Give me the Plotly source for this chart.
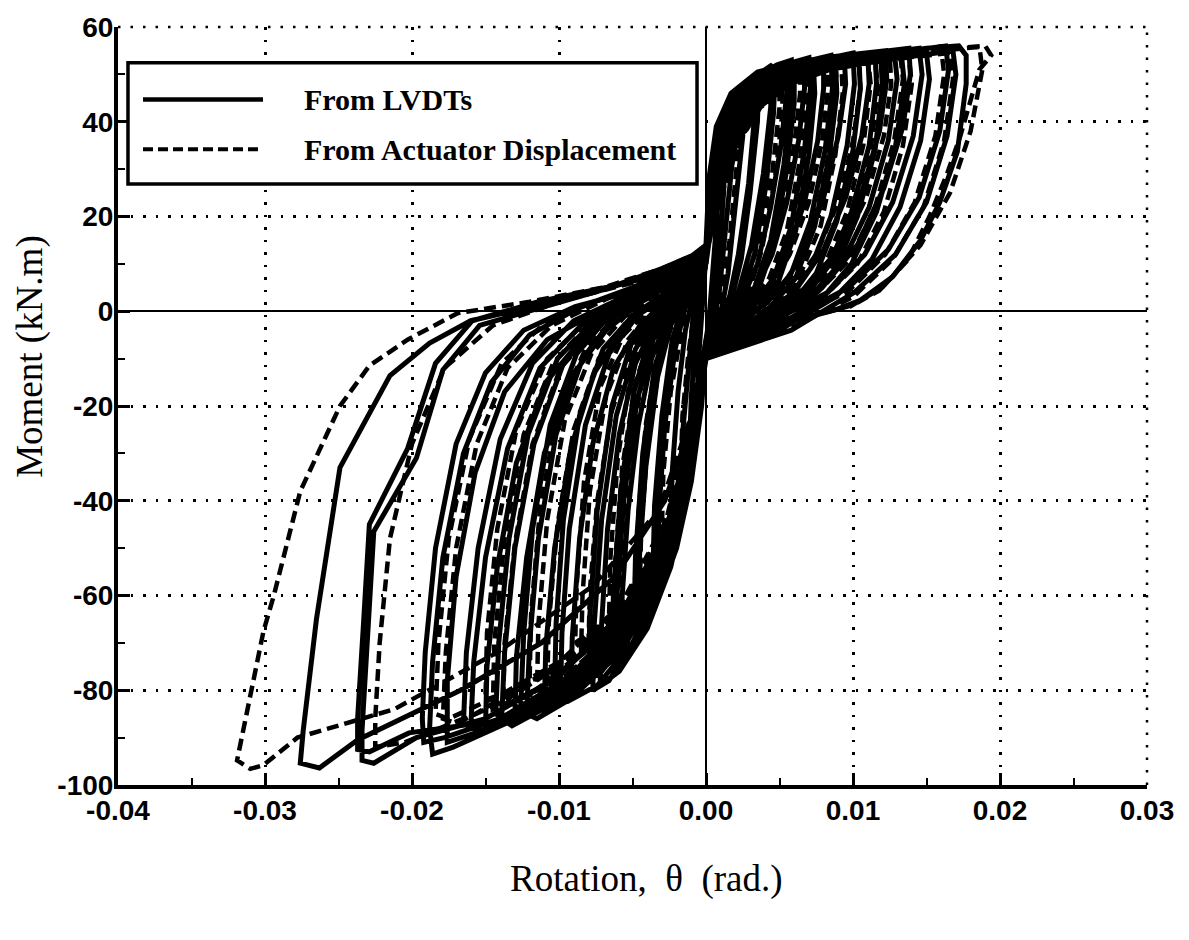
import plotly.graph_objects as go

# ---------------- tick labels ----------------
X_TICKS = [-0.04, -0.03, -0.02, -0.01, 0.0, 0.01, 0.02, 0.03]
X_TICK_LABELS = ["-0.04", "-0.03", "-0.02", "-0.01", "0.00", "0.01", "0.02", "0.03"]
Y_TICKS = [-100, -80, -60, -40, -20, 0, 20, 40, 60]
Y_TICK_LABELS = ["-100", "-80", "-60", "-40", "-20", "0", "20", "40", "60"]

SERIES_NAMES = ["From LVDTs", "From Actuator Displacement"]

# ---------------- "From LVDTs" cycles (rotation rad, moment kN.m) ----------------
lvdt_c01 = [(0.0,10),(0.0004,19),(0.0008,26),(0.0007,18),(0.0004,6),(0.0002,-2),(0.0,-6),(-0.0003,-12),(-0.0006,-18),(-0.0005,-10),(-0.0003,-2),(-0.0002,5),(0.0,10)]
lvdt_c02 = [(0.0,12),(0.0004,22),(0.0009,30),(0.0013,34),(0.0012,25),(0.0008,10),(0.0005,0),(0.0002,-4),(0.0,-8),(-0.0004,-16),(-0.0008,-23),(-0.0011,-27),(-0.0010,-18),(-0.0007,-6),(-0.0004,3),(-0.0002,8),(0.0,12)]
lvdt_c03 = [(0.0,13),(0.0003,24),(0.0009,34),(0.0015,39),(0.0019,41),(0.0018,32),(0.0013,16),(0.0009,4),(0.0006,-1),(0.0002,-5),(0.0,-9),(-0.0004,-18),(-0.0010,-28),(-0.0015,-34),(-0.0017,-36),(-0.0016,-26),(-0.0012,-12),(-0.0009,-2),(-0.0005,5),(-0.0002,10),(0.0,13)]
lvdt_c04 = [(0.0,13),(0.0003,25),(0.0009,36),(0.0017,43),(0.0026,46),(0.0025,37),(0.0020,22),(0.0015,8),(0.0011,1),(0.0006,-3),(0.0,-7),(-0.0003,-16),(-0.0008,-27),(-0.0015,-37),(-0.0021,-43),(-0.0024,-45),(-0.0023,-34),(-0.0019,-17),(-0.0014,-4),(-0.0009,3),(-0.0004,8),(0.0,13)]
lvdt_c05 = [(0.0,13),(0.0003,25),(0.0008,36),(0.0017,44),(0.0026,48),(0.0034,50),(0.0033,41),(0.0029,27),(0.0022,12),(0.0016,3),(0.0009,-2),(0.0,-7),(-0.0003,-17),(-0.0009,-30),(-0.0017,-41),(-0.0026,-50),(-0.0033,-55),(-0.0032,-42),(-0.0028,-24),(-0.0021,-8),(-0.0014,1),(-0.0007,6),(0.0,13)]
lvdt_c05b = [(0.0,12),(0.0005,24),(0.0012,35),(0.0022,43),(0.0036,49),(0.0035,40),(0.0030,25),(0.0024,11),(0.0017,2),(0.0008,-4),(0.0,-10),(-0.0005,-20),(-0.0013,-33),(-0.0023,-44),(-0.0036,-54),(-0.0035,-41),(-0.0030,-22),(-0.0023,-6),(-0.0015,2),(-0.0007,7),(0.0,12)]
lvdt_c06 = [(0.0,13),(0.0003,25),(0.0008,36),(0.0018,44),(0.0031,49),(0.0045,52),(0.0044,43),(0.0039,29),(0.0031,14),(0.0022,4),(0.0012,-2),(0.0,-7),(-0.0004,-18),(-0.0011,-33),(-0.0021,-47),(-0.0033,-59),(-0.0042,-67),(-0.0047,-69),(-0.0046,-55),(-0.0041,-33),(-0.0033,-14),(-0.0024,-3),(-0.0014,3),(-0.0006,8),(0.0,13)]
lvdt_c06b = [(0.0,12),(0.0005,24),(0.0012,35),(0.0023,43),(0.0036,48),(0.0047,51),(0.0046,42),(0.0041,27),(0.0033,12),(0.0024,3),(0.0012,-3),(0.0,-10),(-0.0006,-21),(-0.0015,-36),(-0.0027,-50),(-0.0040,-61),(-0.0049,-66),(-0.0048,-52),(-0.0043,-30),(-0.0035,-12),(-0.0025,-2),(-0.0014,4),(-0.0005,8),(0.0,12)]
lvdt_c07 = [(0.0,13),(0.0004,25),(0.0009,36),(0.0020,44),(0.0034,49),(0.0048,52),(0.0058,53),(0.0058,45),(0.0053,31),(0.0044,15),(0.0033,5),(0.0020,-1),(0.0008,-4),(0.0,-7),(-0.0004,-18),(-0.0012,-35),(-0.0024,-51),(-0.0038,-64),(-0.0053,-72),(-0.0062,-75),(-0.0061,-62),(-0.0056,-40),(-0.0047,-19),(-0.0036,-6),(-0.0024,1),(-0.0012,5),(-0.0004,9),(0.0,13)]
lvdt_c07b = [(0.0,12),(0.0006,24),(0.0013,35),(0.0025,43),(0.0039,48),(0.0052,51),(0.0060,52),(0.0060,44),(0.0055,30),(0.0046,14),(0.0035,4),(0.0021,-2),(0.0009,-6),(0.0,-10),(-0.0006,-22),(-0.0016,-38),(-0.0030,-53),(-0.0046,-65),(-0.0058,-71),(-0.0064,-73),(-0.0063,-60),(-0.0058,-38),(-0.0049,-17),(-0.0038,-5),(-0.0026,1),(-0.0013,5),(-0.0005,8),(0.0,12)]
lvdt_c07c = [(0.0,14),(0.0002,28),(0.0007,39),(0.0017,46),(0.0035,50.5),(0.0055,52),(0.0055,46),(0.0051,35),(0.0044,22),(0.0035,10),(0.0024,2),(0.0010,-3),(0.0,-8),(-0.0003,-20),(-0.0010,-36),(-0.0020,-50),(-0.0034,-62),(-0.0049,-70),(-0.0058,-72),(-0.0057,-60),(-0.0053,-42),(-0.0046,-24),(-0.0037,-10),(-0.0026,-1),(-0.0014,5),(-0.0005,10),(0.0,14)]
lvdt_c08 = [(0.0,13),(0.0004,25),(0.0010,36),(0.0021,44),(0.0035,49),(0.0053,52),(0.0070,53.5),(0.0071,47),(0.0067,34),(0.0058,18),(0.0046,7),(0.0032,1),(0.0016,-3),(0.0,-7),(-0.0005,-19),(-0.0014,-37),(-0.0028,-54),(-0.0046,-68),(-0.0066,-78),(-0.0077,-80),(-0.0076,-66),(-0.0071,-44),(-0.0061,-22),(-0.0048,-8),(-0.0033,0),(-0.0018,4),(-0.0006,9),(0.0,13)]
lvdt_c08b = [(0.0,12),(0.0006,24),(0.0014,35),(0.0026,43),(0.0041,48),(0.0058,51),(0.0073,52.5),(0.0074,46),(0.0070,33),(0.0061,17),(0.0049,6),(0.0034,0),(0.0017,-4),(0.0,-10),(-0.0007,-22),(-0.0018,-40),(-0.0034,-56),(-0.0053,-69),(-0.0071,-76),(-0.0080,-78),(-0.0079,-64),(-0.0074,-42),(-0.0064,-20),(-0.0051,-7),(-0.0035,0),(-0.0019,4),(-0.0007,8),(0.0,12)]
lvdt_c08c = [(0.0,14),(0.0002,28),(0.0007,39),(0.0018,46),(0.0038,50.5),(0.0067,53),(0.0067,47),(0.0063,36),(0.0055,23),(0.0045,12),(0.0033,4),(0.0018,-2),(0.0,-8),(-0.0004,-21),(-0.0012,-38),(-0.0024,-54),(-0.0040,-67),(-0.0059,-76),(-0.0072,-79),(-0.0071,-66),(-0.0067,-46),(-0.0059,-26),(-0.0048,-11),(-0.0034,-2),(-0.0019,4),(-0.0006,10),(0.0,14)]
lvdt_c09 = [(0.0,13),(0.0005,25),(0.0011,36),(0.0022,44),(0.0037,49),(0.0058,52),(0.0085,54),(0.0086,47),(0.0081,34),(0.0071,19),(0.0058,8),(0.0042,2),(0.0022,-2),(0.0,-7),(-0.0005,-20),(-0.0015,-38),(-0.0032,-56),(-0.0054,-70),(-0.0079,-78),(-0.0099,-81),(-0.0098,-68),(-0.0093,-46),(-0.0082,-24),(-0.0066,-9),(-0.0047,-1),(-0.0028,3),(-0.0010,8),(0.0,13)]
lvdt_c09b = [(0.0,12),(0.0007,24),(0.0015,35),(0.0027,43),(0.0043,48),(0.0063,51),(0.0088,53),(0.0089,46),(0.0084,33),(0.0074,18),(0.0061,7),(0.0044,1),(0.0023,-4),(0.0,-10),(-0.0007,-23),(-0.0019,-41),(-0.0037,-57),(-0.0060,-70),(-0.0085,-77),(-0.0103,-80),(-0.0102,-66),(-0.0097,-44),(-0.0086,-22),(-0.0070,-8),(-0.0050,-1),(-0.0030,3),(-0.0011,7),(0.0,12)]
lvdt_c09c = [(0.0,14),(0.0003,28),(0.0008,39),(0.0019,46),(0.0040,50.5),(0.0080,53.5),(0.0080,47),(0.0076,36),(0.0067,23),(0.0055,12),(0.0041,4),(0.0022,-2),(0.0,-8),(-0.0004,-22),(-0.0014,-40),(-0.0029,-57),(-0.0050,-70),(-0.0074,-79),(-0.0092,-82),(-0.0091,-69),(-0.0086,-48),(-0.0077,-28),(-0.0063,-12),(-0.0045,-3),(-0.0025,3),(-0.0008,9),(0.0,14)]
lvdt_c10 = [(0.0,13),(0.0005,25),(0.0012,36),(0.0024,44),(0.0040,49),(0.0062,52),(0.0085,53.5),(0.0100,54.5),(0.0101,48),(0.0096,35),(0.0085,20),(0.0071,9),(0.0054,2),(0.0030,-2),(0.0,-7),(-0.0006,-20),(-0.0018,-40),(-0.0037,-58),(-0.0062,-72),(-0.0093,-82),(-0.0115,-86),(-0.0122,-85),(-0.0120,-70),(-0.0114,-48),(-0.0102,-26),(-0.0084,-10),(-0.0062,-1),(-0.0038,3),(-0.0014,8),(0.0,13)]
lvdt_c10b = [(0.0,12),(0.0007,24),(0.0016,35),(0.0029,43),(0.0046,48),(0.0068,51),(0.0090,52.5),(0.0104,53.5),(0.0105,47),(0.0100,34),(0.0089,19),(0.0075,8),(0.0057,1),(0.0032,-4),(0.0,-10),(-0.0008,-23),(-0.0021,-42),(-0.0041,-59),(-0.0067,-72),(-0.0098,-80),(-0.0120,-84),(-0.0126,-83),(-0.0124,-68),(-0.0118,-46),(-0.0106,-24),(-0.0088,-9),(-0.0066,-1),(-0.0040,3),(-0.0015,7),(0.0,12)]
lvdt_c10c = [(0.0,14),(0.0003,28),(0.0009,39),(0.0020,46),(0.0042,50.5),(0.0070,53),(0.0094,54),(0.0095,48),(0.0090,37),(0.0080,24),(0.0066,12),(0.0049,4),(0.0026,-2),(0.0,-8),(-0.0005,-22),(-0.0016,-41),(-0.0034,-59),(-0.0058,-72),(-0.0086,-80),(-0.0110,-84),(-0.0109,-71),(-0.0103,-50),(-0.0092,-29),(-0.0076,-13),(-0.0055,-3),(-0.0031,3),(-0.0010,9),(0.0,14)]
lvdt_c11 = [(0.0,13),(0.0006,25),(0.0013,36),(0.0026,44),(0.0043,49),(0.0066,52),(0.0094,53.5),(0.0115,54.5),(0.0116,48),(0.0111,35),(0.0099,21),(0.0084,10),(0.0064,3),(0.0036,-2),(0.0,-7),(-0.0006,-20),(-0.0019,-41),(-0.0040,-59),(-0.0070,-73),(-0.0105,-83),(-0.0132,-87.5),(-0.0139,-86),(-0.0137,-72),(-0.0130,-50),(-0.0117,-28),(-0.0097,-11),(-0.0072,-2),(-0.0044,3),(-0.0016,8),(0.0,13)]
lvdt_c11b = [(0.0,12),(0.0008,24),(0.0017,35),(0.0031,43),(0.0049,48),(0.0073,51),(0.0099,52.5),(0.0119,53.5),(0.0120,47),(0.0115,34),(0.0103,20),(0.0088,9),(0.0068,2),(0.0038,-4),(0.0,-10),(-0.0008,-23),(-0.0022,-43),(-0.0044,-60),(-0.0075,-73),(-0.0110,-82),(-0.0137,-86),(-0.0143,-85),(-0.0141,-70),(-0.0134,-48),(-0.0121,-26),(-0.0101,-10),(-0.0076,-2),(-0.0047,3),(-0.0017,7),(0.0,12)]
lvdt_c11c = [(0.0,14),(0.0003,28),(0.0009,39),(0.0021,46),(0.0044,50.5),(0.0075,53),(0.0110,54.5),(0.0111,48),(0.0106,37),(0.0095,24),(0.0080,13),(0.0060,4),(0.0032,-2),(0.0,-8),(-0.0005,-23),(-0.0017,-42),(-0.0038,-60),(-0.0066,-74),(-0.0100,-82),(-0.0130,-86),(-0.0129,-73),(-0.0122,-52),(-0.0110,-30),(-0.0092,-14),(-0.0068,-4),(-0.0040,3),(-0.0013,9),(0.0,14)]
lvdt_c12 = [(0.0,13),(0.0006,25),(0.0014,36),(0.0028,44),(0.0046,49),(0.0070,52),(0.0100,54),(0.0128,55),(0.0130,49),(0.0124,36),(0.0111,22),(0.0094,11),(0.0072,3),(0.0040,-2),(0.0,-7),(-0.0007,-21),(-0.0021,-42),(-0.0044,-60),(-0.0078,-74),(-0.0119,-84),(-0.0152,-89),(-0.0160,-88),(-0.0158,-74),(-0.0150,-52),(-0.0135,-29),(-0.0113,-12),(-0.0085,-3),(-0.0052,3),(-0.0020,8),(0.0,13)]
lvdt_c12b = [(0.0,12),(0.0008,24),(0.0018,35),(0.0033,43),(0.0052,48),(0.0077,51),(0.0106,53),(0.0133,54),(0.0135,48),(0.0129,35),(0.0116,21),(0.0099,10),(0.0077,2),(0.0043,-4),(0.0,-10),(-0.0009,-24),(-0.0024,-44),(-0.0048,-61),(-0.0083,-75),(-0.0124,-84),(-0.0157,-88),(-0.0165,-87),(-0.0163,-72),(-0.0155,-50),(-0.0140,-27),(-0.0118,-11),(-0.0090,-2),(-0.0056,3),(-0.0022,7),(0.0,12)]
lvdt_c12c = [(0.0,14),(0.0003,28),(0.0010,39),(0.0022,46),(0.0046,50.5),(0.0080,53.5),(0.0122,55),(0.0123,49),(0.0118,38),(0.0106,25),(0.0090,13),(0.0068,5),(0.0036,-2),(0.0,-8),(-0.0006,-23),(-0.0019,-43),(-0.0041,-61),(-0.0073,-75),(-0.0112,-84),(-0.0150,-88),(-0.0149,-75),(-0.0142,-54),(-0.0129,-32),(-0.0109,-15),(-0.0082,-5),(-0.0049,2),(-0.0017,9),(0.0,14)]
lvdt_c13 = [(0.0,13),(0.0007,25),(0.0015,36),(0.0030,44),(0.0048,49),(0.0073,52),(0.0107,54),(0.0145,55.5),(0.0147,50),(0.0141,37),(0.0127,23),(0.0108,12),(0.0083,4),(0.0046,-2),(0.0,-7),(-0.0007,-21),(-0.0022,-43),(-0.0048,-62),(-0.0087,-76),(-0.0136,-87),(-0.0172,-92),(-0.0186,-93.5),(-0.0188,-88),(-0.0186,-74),(-0.0179,-52),(-0.0165,-30),(-0.0146,-15),(-0.0120,-5),(-0.0085,1),(-0.0050,5),(-0.0020,9),(0.0,13)]
lvdt_c13b = [(0.0,12),(0.0009,24),(0.0019,35),(0.0035,43),(0.0055,48),(0.0081,51),(0.0114,53),(0.0150,54.5),(0.0152,49),(0.0146,36),(0.0132,22),(0.0113,11),(0.0088,3),(0.0050,-4),(0.0,-10),(-0.0009,-24),(-0.0025,-45),(-0.0052,-63),(-0.0092,-77),(-0.0140,-86),(-0.0178,-90),(-0.0192,-91),(-0.0193,-86),(-0.0191,-72),(-0.0184,-50),(-0.0170,-28),(-0.0150,-13),(-0.0124,-4),(-0.0089,1),(-0.0053,4),(-0.0022,8),(0.0,12)]
lvdt_c13c = [(0.0,14),(0.0004,28),(0.0011,39),(0.0024,46),(0.0048,50.5),(0.0085,53.5),(0.0138,55.5),(0.0139,50),(0.0134,39),(0.0121,26),(0.0103,14),(0.0079,5),(0.0042,-2),(0.0,-8),(-0.0006,-24),(-0.0021,-45),(-0.0046,-63),(-0.0082,-77),(-0.0128,-86),(-0.0176,-91),(-0.0176,-78),(-0.0170,-56),(-0.0157,-34),(-0.0137,-17),(-0.0108,-6),(-0.0068,1),(-0.0025,8),(0.0,14)]
lvdt_c14 = [(0.0,13),(0.0007,25),(0.0016,36),(0.0031,44),(0.0050,49),(0.0076,52),(0.0113,54),(0.0163,56),(0.0165,51),(0.0159,38),(0.0145,24),(0.0124,13),(0.0097,5),(0.0055,-2),(0.0,-7),(-0.0008,-22),(-0.0024,-44),(-0.0054,-63),(-0.0100,-77),(-0.0150,-86),(-0.0197,-90),(-0.0226,-95.4),(-0.0234,-94.8),(-0.0234,-88.5),(-0.0230,-68),(-0.0226,-46.5),(-0.0197,-31),(-0.0179,-12.4),(-0.0154,-3),(-0.0110,1),(-0.0065,5),(-0.0025,9),(0.0,13)]
lvdt_c14b = [(0.0,12),(0.0009,24),(0.0020,35),(0.0036,43),(0.0057,48),(0.0084,51),(0.0120,53),(0.0168,55),(0.0170,50),(0.0164,37),(0.0150,23),(0.0129,12),(0.0101,4),(0.0058,-4),(0.0,-10),(-0.0010,-25),(-0.0027,-46),(-0.0058,-64),(-0.0104,-78),(-0.0156,-87),(-0.0202,-89),(-0.0229,-93),(-0.0237,-92.5),(-0.0237,-86),(-0.0233,-66),(-0.0229,-45),(-0.0203,-29),(-0.0184,-11),(-0.0159,-2),(-0.0114,2),(-0.0068,5),(-0.0028,8),(0.0,12)]
lvdt_c15 = [(0.0,13),(0.0008,25),(0.0018,36),(0.0033,44),(0.0052,49),(0.0078,52),(0.0118,54),(0.0150,55.5),(0.0172,56),(0.0177,54),(0.0177,48),(0.0171,33.7),(0.0159,23),(0.0146,15),(0.0127,7.3),(0.0105,2.3),(0.0088,0.3),(0.0060,-2),(0.0,-6),(-0.0008,-22),(-0.0028,-40),(-0.0062,-56),(-0.0112,-70),(-0.0167,-80),(-0.0237,-90.5),(-0.0263,-96.4),(-0.0276,-95.4),(-0.0274,-88.5),(-0.0265,-65),(-0.0256,-46.5),(-0.0249,-33),(-0.0215,-13.6),(-0.0188,-6.7),(-0.0160,-2),(-0.0120,1),(-0.0070,4.5),(-0.0030,9),(0.0,13)]

# ---------------- "From Actuator Displacement" cycles ----------------
act_c01 = [(0.0,11),(0.0004,19),(0.0008,26),(0.0012,30),(0.0011,21),(0.0007,8),(0.0004,0),(0.0,-6),(-0.0004,-13),(-0.0008,-20),(-0.0007,-11),(-0.0004,-2),(-0.0002,5),(0.0,11)]
act_c02 = [(0.0,12),(0.0004,22),(0.0011,32),(0.0017,37),(0.0022,40),(0.0021,31),(0.0016,15),(0.0011,4),(0.0006,-2),(0.0,-7),(-0.0005,-16),(-0.0011,-25),(-0.0017,-32),(-0.0016,-22),(-0.0012,-9),(-0.0008,0),(-0.0004,6),(0.0,12)]
act_c03 = [(0.0,13),(0.0004,25),(0.0010,35),(0.0020,42),(0.0035,47),(0.0034,38),(0.0029,23),(0.0022,10),(0.0015,2),(0.0007,-3),(0.0,-7),(-0.0004,-17),(-0.0011,-29),(-0.0020,-39),(-0.0030,-46),(-0.0029,-34),(-0.0024,-17),(-0.0017,-5),(-0.0010,2),(-0.0004,8),(0.0,13)]
act_c04 = [(0.0,13),(0.0004,25),(0.0010,36),(0.0021,44),(0.0035,49),(0.0050,51),(0.0050,43),(0.0045,29),(0.0036,15),(0.0026,5),(0.0014,-1),(0.0,-7),(-0.0005,-18),(-0.0013,-32),(-0.0025,-45),(-0.0037,-54),(-0.0045,-58),(-0.0044,-45),(-0.0039,-26),(-0.0031,-10),(-0.0021,-1),(-0.0011,5),(0.0,13)]
act_c04b = [(0.0,12),(0.0006,24),(0.0013,35),(0.0024,43),(0.0039,48),(0.0052,50),(0.0052,42),(0.0047,28),(0.0038,13),(0.0028,3),(0.0015,-3),(0.0,-10),(-0.0006,-20),(-0.0015,-33),(-0.0027,-45),(-0.0039,-53),(-0.0047,-56),(-0.0046,-43),(-0.0041,-24),(-0.0033,-9),(-0.0023,0),(-0.0012,5),(0.0,12)]
act_c05 = [(0.0,13),(0.0005,25),(0.0011,36),(0.0023,44),(0.0038,49),(0.0055,51.5),(0.0068,52.5),(0.0069,46),(0.0064,32),(0.0055,17),(0.0043,7),(0.0029,1),(0.0014,-3),(0.0,-7),(-0.0005,-19),(-0.0014,-35),(-0.0028,-50),(-0.0046,-61),(-0.0063,-67),(-0.0062,-54),(-0.0057,-33),(-0.0048,-15),(-0.0036,-4),(-0.0022,2),(-0.0008,8),(0.0,13)]
act_c05b = [(0.0,12),(0.0007,24),(0.0014,35),(0.0026,43),(0.0042,48),(0.0059,51),(0.0071,51.5),(0.0072,45),(0.0067,31),(0.0058,16),(0.0046,6),(0.0031,0),(0.0015,-4),(0.0,-10),(-0.0007,-21),(-0.0017,-37),(-0.0031,-51),(-0.0049,-60),(-0.0066,-65),(-0.0065,-52),(-0.0060,-31),(-0.0051,-13),(-0.0039,-3),(-0.0024,3),(-0.0009,8),(0.0,12)]
act_c05c = [(0.0,14),(0.0003,28),(0.0009,39),(0.0020,46),(0.0040,50.5),(0.0064,52),(0.0064,46),(0.0060,35),(0.0052,22),(0.0042,11),(0.0030,3),(0.0015,-2),(0.0,-8),(-0.0004,-20),(-0.0012,-35),(-0.0025,-49),(-0.0043,-59),(-0.0058,-64),(-0.0057,-52),(-0.0053,-34),(-0.0045,-17),(-0.0034,-5),(-0.0020,2),(-0.0007,9),(0.0,14)]
act_c06 = [(0.0,13),(0.0006,25),(0.0013,36),(0.0025,44),(0.0041,49),(0.0062,52),(0.0088,53.5),(0.0089,47),(0.0084,34),(0.0074,19),(0.0060,8),(0.0043,2),(0.0022,-2),(0.0,-7),(-0.0006,-20),(-0.0016,-37),(-0.0033,-53),(-0.0056,-65),(-0.0085,-72),(-0.0084,-60),(-0.0079,-38),(-0.0068,-18),(-0.0053,-6),(-0.0035,1),(-0.0014,7),(0.0,13)]
act_c06b = [(0.0,12),(0.0008,24),(0.0016,35),(0.0029,43),(0.0046,48),(0.0067,51),(0.0092,52.5),(0.0093,46),(0.0088,33),(0.0078,18),(0.0063,7),(0.0046,1),(0.0024,-4),(0.0,-10),(-0.0008,-22),(-0.0019,-39),(-0.0036,-54),(-0.0060,-64),(-0.0089,-70),(-0.0088,-58),(-0.0083,-36),(-0.0072,-16),(-0.0056,-5),(-0.0037,1),(-0.0015,7),(0.0,12)]
act_c06c = [(0.0,14),(0.0004,28),(0.0010,39),(0.0022,46),(0.0043,50.5),(0.0083,53),(0.0083,47),(0.0079,36),(0.0070,23),(0.0057,12),(0.0042,4),(0.0021,-2),(0.0,-8),(-0.0005,-21),(-0.0015,-38),(-0.0031,-54),(-0.0053,-65),(-0.0080,-71),(-0.0079,-59),(-0.0074,-40),(-0.0064,-21),(-0.0050,-8),(-0.0032,0),(-0.0012,7),(0.0,14)]
act_c07 = [(0.0,13),(0.0007,25),(0.0015,36),(0.0028,44),(0.0045,49),(0.0068,52),(0.0092,53),(0.0110,54),(0.0112,48),(0.0107,35),(0.0096,21),(0.0081,10),(0.0062,3),(0.0034,-2),(0.0,-7),(-0.0007,-20),(-0.0019,-39),(-0.0039,-56),(-0.0066,-69),(-0.0096,-77),(-0.0115,-80),(-0.0114,-66),(-0.0108,-44),(-0.0096,-23),(-0.0078,-9),(-0.0055,-1),(-0.0030,4),(-0.0010,9),(0.0,13)]
act_c07b = [(0.0,12),(0.0009,24),(0.0018,35),(0.0032,43),(0.0050,48),(0.0073,51),(0.0097,52.5),(0.0115,53),(0.0117,47),(0.0112,34),(0.0101,20),(0.0085,9),(0.0065,2),(0.0036,-4),(0.0,-10),(-0.0009,-23),(-0.0022,-41),(-0.0042,-57),(-0.0070,-69),(-0.0101,-76),(-0.0120,-78),(-0.0119,-64),(-0.0113,-42),(-0.0101,-21),(-0.0082,-8),(-0.0058,0),(-0.0032,4),(-0.0011,8),(0.0,12)]
act_c07c = [(0.0,14),(0.0004,28),(0.0011,39),(0.0024,46),(0.0047,50.5),(0.0078,53),(0.0104,53.5),(0.0105,47),(0.0100,36),(0.0090,23),(0.0075,12),(0.0056,4),(0.0030,-2),(0.0,-8),(-0.0006,-22),(-0.0018,-40),(-0.0037,-56),(-0.0063,-69),(-0.0090,-76),(-0.0108,-79),(-0.0107,-66),(-0.0101,-45),(-0.0090,-25),(-0.0073,-10),(-0.0051,-1),(-0.0027,4),(-0.0008,10),(0.0,14)]
act_c08 = [(0.0,13),(0.0008,25),(0.0017,36),(0.0031,44),(0.0049,49),(0.0073,52),(0.0103,53.5),(0.0132,54.5),(0.0134,49),(0.0128,36),(0.0115,22),(0.0098,11),(0.0076,4),(0.0042,-2),(0.0,-7),(-0.0008,-21),(-0.0021,-41),(-0.0045,-58),(-0.0078,-71),(-0.0116,-80),(-0.0145,-84),(-0.0144,-70),(-0.0137,-48),(-0.0124,-26),(-0.0104,-11),(-0.0078,-2),(-0.0046,3),(-0.0016,8),(0.0,13)]
act_c08b = [(0.0,12),(0.0009,24),(0.0019,35),(0.0034,43),(0.0053,48),(0.0078,51),(0.0108,53),(0.0138,53.5),(0.0140,48),(0.0134,35),(0.0121,21),(0.0103,10),(0.0080,3),(0.0045,-4),(0.0,-10),(-0.0009,-23),(-0.0023,-42),(-0.0048,-59),(-0.0082,-71),(-0.0121,-79),(-0.0150,-82),(-0.0149,-68),(-0.0142,-46),(-0.0129,-25),(-0.0108,-10),(-0.0081,-2),(-0.0048,3),(-0.0017,7),(0.0,12)]
act_c08c = [(0.0,14),(0.0005,28),(0.0012,39),(0.0026,46),(0.0050,50.5),(0.0085,53),(0.0125,54),(0.0126,48),(0.0121,37),(0.0109,24),(0.0092,13),(0.0070,4),(0.0038,-2),(0.0,-8),(-0.0007,-23),(-0.0020,-42),(-0.0043,-59),(-0.0075,-72),(-0.0110,-80),(-0.0138,-83),(-0.0137,-70),(-0.0130,-49),(-0.0118,-28),(-0.0099,-12),(-0.0073,-3),(-0.0042,3),(-0.0014,9),(0.0,14)]
act_c09 = [(0.0,13),(0.0009,25),(0.0019,36),(0.0034,44),(0.0053,49),(0.0078,52),(0.0114,54),(0.0160,55.5),(0.0162,50),(0.0156,37),(0.0142,23),(0.0122,12),(0.0096,4),(0.0052,-2),(0.0,-7),(-0.0009,-22),(-0.0024,-43),(-0.0051,-60),(-0.0090,-73),(-0.0136,-82),(-0.0170,-87),(-0.0179,-86),(-0.0177,-72),(-0.0170,-50),(-0.0156,-28),(-0.0135,-12),(-0.0105,-3),(-0.0065,3),(-0.0025,8),(0.0,13)]
act_c09b = [(0.0,12),(0.0010,24),(0.0021,35),(0.0037,43),(0.0057,48),(0.0083,51),(0.0120,53),(0.0166,54.5),(0.0168,49),(0.0162,36),(0.0148,22),(0.0127,11),(0.0100,3),(0.0055,-4),(0.0,-10),(-0.0010,-24),(-0.0026,-44),(-0.0055,-61),(-0.0094,-73),(-0.0140,-81),(-0.0175,-86),(-0.0184,-85),(-0.0182,-70),(-0.0175,-48),(-0.0161,-27),(-0.0139,-11),(-0.0108,-2),(-0.0067,3),(-0.0026,7),(0.0,12)]
act_c10 = [(0.0,13),(0.0010,25),(0.0021,36),(0.0036,44),(0.0056,49),(0.0082,52),(0.0125,54),(0.0186,55.8),(0.0188,51),(0.0180,38),(0.0166,25),(0.0146,14),(0.0120,5),(0.0098,1),(0.0055,-2),(0.0,-7),(-0.0010,-22),(-0.0027,-44),(-0.0058,-62),(-0.0103,-75),(-0.0157,-85),(-0.0205,-91),(-0.0225,-92),(-0.0225,-86),(-0.0222,-70),(-0.0215,-48),(-0.0200,-28),(-0.0178,-12),(-0.0145,-3),(-0.0100,2),(-0.0050,6),(0.0,13)]
act_c11 = [(0.0,13),(0.0011,25),(0.0023,36),(0.0038,44),(0.0058,49),(0.0085,52),(0.0130,54.5),(0.0168,55.5),(0.0190,56),(0.0194,54),(0.0186,51),(0.0173,37),(0.0164,29),(0.0152,20),(0.0137,10.7),(0.0118,4.4),(0.0100,1.3),(0.0060,-2),(0.0,-6),(-0.0010,-22),(-0.0032,-42),(-0.0077,-58),(-0.0142,-72),(-0.0212,-84),(-0.0278,-90),(-0.0301,-95.8),(-0.0310,-96.6),(-0.0319,-94.8),(-0.0315,-88.5),(-0.0301,-67.5),(-0.0294,-60),(-0.0283,-46.5),(-0.0276,-38),(-0.0249,-20),(-0.0229,-11.5),(-0.0203,-6),(-0.0169,-0.4),(-0.0120,2),(-0.0070,5),(-0.0030,9),(0.0,13)]

LVDT_CYCLES = [lvdt_c01, lvdt_c02, lvdt_c03, lvdt_c04, lvdt_c05, lvdt_c05b, lvdt_c06, lvdt_c06b,
               lvdt_c07, lvdt_c07b, lvdt_c07c, lvdt_c08, lvdt_c08b, lvdt_c08c, lvdt_c09, lvdt_c09b,
               lvdt_c09c, lvdt_c10, lvdt_c10b, lvdt_c10c, lvdt_c11, lvdt_c11b, lvdt_c11c, lvdt_c12,
               lvdt_c12b, lvdt_c12c, lvdt_c13, lvdt_c13b, lvdt_c13c, lvdt_c14, lvdt_c14b, lvdt_c15]
ACT_CYCLES = [act_c01, act_c02, act_c03, act_c04, act_c04b, act_c05, act_c05b, act_c05c,
              act_c06, act_c06b, act_c06c, act_c07, act_c07b, act_c07c, act_c08, act_c08b,
              act_c08c, act_c09, act_c09b, act_c10, act_c11]


def chain(cycles):
    xs, ys = [], []
    for c in cycles:
        for x, y in c:
            xs.append(x)
            ys.append(y)
    return xs, ys


lx, ly = chain(LVDT_CYCLES)
ax_, ay_ = chain(ACT_CYCLES)

fig = go.Figure()
fig.add_trace(go.Scatter(x=ax_, y=ay_, mode="lines", name=SERIES_NAMES[1],
                         line=dict(color="black", width=4.5, dash="12px,6px"),
                         showlegend=False))
fig.add_trace(go.Scatter(x=lx, y=ly, mode="lines", name=SERIES_NAMES[0],
                         line=dict(color="black", width=5),
                         showlegend=False))

TICKFONT = dict(family="Liberation Sans", size=28, color="black", weight="bold")
TITLEFONT = dict(family="Liberation Serif", size=37, color="black")

fig.update_xaxes(
    range=[-0.04, 0.03], tickmode="array", tickvals=X_TICKS, ticktext=X_TICK_LABELS,
    ticks="inside", ticklen=12, tickwidth=2.5, tickcolor="black", ticklabelstandoff=-3,
    showline=True, linewidth=4, linecolor="black",
    showgrid=True, gridcolor="black", gridwidth=2.5, griddash="2.5px,10px",
    zeroline=True, zerolinecolor="black", zerolinewidth=2,
    minor=dict(ticks="inside", ticklen=7, tickwidth=2, tickcolor="black",
               tickmode="linear", tick0=-0.04, dtick=0.005, showgrid=False),
    tickfont=TICKFONT,
)
fig.update_yaxes(
    range=[-100, 60], tickmode="array", tickvals=Y_TICKS, ticktext=Y_TICK_LABELS,
    ticks="inside", ticklen=12, tickwidth=2.5, tickcolor="black", ticklabelstandoff=-5,
    showline=True, linewidth=4, linecolor="black",
    showgrid=True, gridcolor="black", gridwidth=2.5, griddash="2.5px,10px",
    zeroline=True, zerolinecolor="black", zerolinewidth=2,
    minor=dict(ticks="inside", ticklen=7, tickwidth=2, tickcolor="black",
               tickmode="linear", tick0=-100, dtick=10, showgrid=False),
    tickfont=TICKFONT,
)

# dotted top and right frame edges
dot = dict(color="black", width=2.5, dash="2.5px,10px")
shapes = [
    dict(type="line", xref="paper", yref="paper", x0=0, x1=1, y0=1, y1=1, line=dot, layer="below"),
    dict(type="line", xref="paper", yref="paper", x0=1, x1=1, y0=0, y1=1, line=dot, layer="below"),
]
# legend box (drawn by hand to reproduce the long line samples)
LEG_X0, LEG_X1, LEG_Y0, LEG_Y1 = 0.0097, 0.5627, 0.7929, 0.9528
shapes.append(dict(type="rect", xref="paper", yref="paper", x0=LEG_X0, x1=LEG_X1, y0=LEG_Y0, y1=LEG_Y1,
                   line=dict(color="black", width=3.5), fillcolor="white", layer="above"))
shapes.append(dict(type="line", xref="paper", yref="paper", x0=0.0243, x1=0.1409, y0=0.9043, y1=0.9043,
                   line=dict(color="black", width=4.5), layer="above"))
shapes.append(dict(type="line", xref="paper", yref="paper", x0=0.0243, x1=0.1409, y0=0.8388, y1=0.8388,
                   line=dict(color="black", width=4, dash="10px,5px"), layer="above"))

LEGFONT = dict(family="Liberation Serif", size=30, color="black", weight="bold")
annotations = [
    dict(xref="paper", yref="paper", x=0.1788, y=0.9043, xanchor="left", yanchor="middle",
         text=SERIES_NAMES[0], showarrow=False, font=LEGFONT),
    dict(xref="paper", yref="paper", x=0.1788, y=0.8388, xanchor="left", yanchor="middle",
         text=SERIES_NAMES[1], showarrow=False, font=LEGFONT),
    # axis titles
    dict(xref="paper", yref="paper", x=0.514, y=-0.1245, xanchor="center", yanchor="middle",
         text="Rotation,  θ  (rad.)", showarrow=False, font=TITLEFONT),
    dict(xref="paper", yref="paper", x=-0.0855, y=0.5649, xanchor="center", yanchor="middle",
         text="Moment (kN.m)", textangle=-90, showarrow=False, font=TITLEFONT),
]

fig.update_layout(
    width=1189, height=940,
    margin=dict(l=118, r=42, t=22, b=155),
    paper_bgcolor="white", plot_bgcolor="white",
    shapes=shapes, annotations=annotations,
    showlegend=False,
)

fig.write_html("out.html")
